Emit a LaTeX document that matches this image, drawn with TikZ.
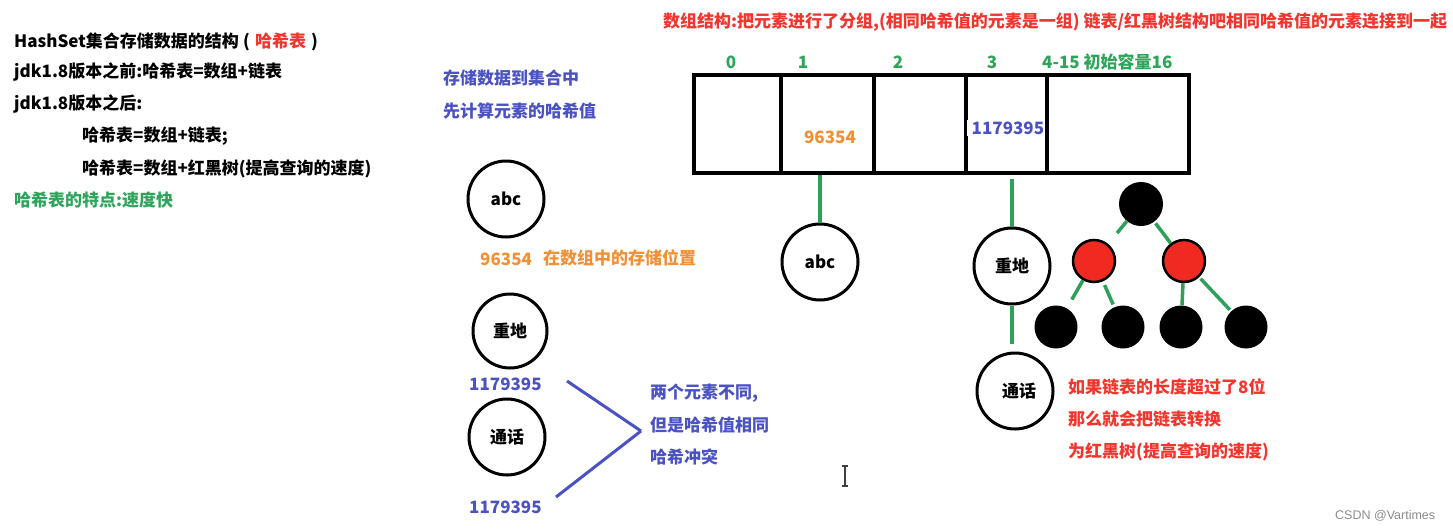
\documentclass[tikz,border=0pt]{standalone}
\usepackage{fontspec}
\setmainfont{Noto Sans CJK SC}
\newfontfamily\wmfont{Liberation Sans}
\definecolor{tred}{HTML}{F2362E}
\definecolor{torange}{HTML}{F39034}
\definecolor{tblue}{HTML}{4B52C4}
\definecolor{tgreen}{HTML}{2EA55A}
\definecolor{lgreen}{HTML}{2DA05A}
\definecolor{nred}{HTML}{F02A20}
\begin{document}
\begin{tikzpicture}[x=1pt,y=-1pt,
  font=\bfseries\fontsize{17}{20}\selectfont,
  txt/.style={anchor=west, inner sep=0pt},
  ctxt/.style={inner sep=0pt},
  circ/.style={circle, draw, line width=3pt, minimum size=76pt, inner sep=0pt},
  cell/.style={draw, line width=3.5pt, minimum height=98pt, inner sep=0pt},
  bk/.style={circle, fill=black, minimum size=44pt, inner sep=0pt},
  rd/.style={circle, fill=nred, draw=black, line width=2.5pt, minimum size=42pt, inner sep=0pt},
  gl/.style={draw=lgreen, line width=3.5pt},
  bl/.style={draw=tblue, line width=3pt}]
\path[fill=white] (0,0) rectangle (1453,531);
\useasboundingbox (0,0) rectangle (1453,531);
% left block
\node[txt] (l1) at (14,42) {HashSet集合存储数据的结构\hspace{0.25em}(\hspace{0.3em}\textcolor{tred}{哈希表}\hspace{0.3em})};
\node[txt] (l2) at (14,72) {jdk1.8版本之前:哈希表=数组+链表};
\node[txt] (l3) at (14,104) {jdk1.8版本之后:};
\node[txt] (l4) at (82,136) {哈希表=数组+链表;};
\node[txt] (l5) at (82,169) {哈希表=数组+红黑树(提高查询的速度)};
\node[txt, text=tgreen] (l6) at (14,200) {哈希表的特点:速度快};
% middle column
\node[txt, text=tblue] (m1) at (443,78) {存储数据到集合中};
\node[txt, text=tblue] (m2) at (443,111) {先计算元素的哈希值};
\node[circ] (ca) at (506,199) {abc};
\node[txt, text=torange] (h1) at (480,259) {96354};
\node[txt, text=torange] (h2) at (543,258) {在数组中的存储位置};
\node[circ, minimum size=74pt] (cz) at (510,331) {重地};
\node[txt, text=tblue] (n1) at (469,384) {1179395};
\node[circ] (ct) at (507,437) {通话};
\node[txt, text=tblue] (n2) at (469,507) {1179395};
\node[txt, text=tblue] (b1) at (650,393) {两个元素不同,};
\node[txt, text=tblue] (b2) at (650,425) {但是哈希值相同};
\node[txt, text=tblue] (b3) at (650,457) {哈希冲突};
\coordinate (p1) at (567,381);
\coordinate (p2) at (556,497);
\coordinate (pm) at (641,431);
\draw[bl] (p1) -- (pm);
\draw[bl] (p2) -- (pm);
% top text
\node[txt, text=tred] (top) at (663,22) {数组结构:把元素进行了分组,(相同哈希值的元素是一组) 链表/红黑树结构吧相同哈希值的元素连接到一起};
% array
\node[cell, minimum width=87pt] (c0) at (737.5,124) {};
\node[cell, minimum width=93pt] (c1) at (827.5,124) {};
\node[cell, minimum width=92pt] (c2) at (920,124) {};
\node[cell, minimum width=81pt] (c3) at (1006.5,124) {};
\node[cell, minimum width=142pt] (c4) at (1118,124) {};
\node[ctxt, text=tgreen] (i0) at (731,62) {0};
\node[ctxt, text=tgreen] (i1) at (803,62) {1};
\node[ctxt, text=tgreen] (i2) at (898,62) {2};
\node[ctxt, text=tgreen] (i3) at (992,62) {3};
\node[txt, text=tgreen] (i4) at (1042,62) {4-15 初始容量16};
\node[ctxt, text=torange] (v1) at (830,137) {96354};
\node[txt, fill=white, inner xsep=0pt, inner ysep=2pt, text=tblue] (v3) at (966.5,128) {\hspace{5pt}1179395};
% chains
\node[circ] (ra) at (820,262) {abc};
\node[circ] (rz) at (1012,266) {重地};
\node[circ] (rt) at (1015,391) {\hspace{8pt}\raisebox{-7pt}{通话}};
\draw[gl] (ra.north |- c1.south) -- (ra.north);
\draw[gl, shorten <=4pt] (rz.north |- c3.south) -- (rz.north);
\draw[gl, shorten >=8pt] (rz.south) -- (rz.south |- rt.north);
% tree
\node[bk] (t0) at (1141,204) {};
\node[rd] (t1) at (1094,261) {};
\node[rd] (t2) at (1184,261) {};
\node[bk, minimum size=43pt] (t3) at (1056,327) {};
\node[bk, minimum size=43pt] (t4) at (1123,327) {};
\node[bk, minimum size=43pt] (t5) at (1181,327) {};
\node[bk, minimum size=43pt] (t6) at (1246,327) {};
\draw[gl, shorten >=14pt] (t0) -- (t1);
\draw[gl, shorten <=2pt] (t0) -- (t2);
\draw[gl, shorten >=10pt] (t1) -- (t3);
\draw[gl, shorten <=4pt, shorten >=3pt] (t1) -- (t4);
\draw[gl] (t2) -- (t5);
\draw[gl, shorten <=2pt, shorten >=2pt] (t2) -- (t6);
\node[txt, text=tred] (r1) at (1068,387) {如果链表的长度超过了8位};
\node[txt, text=tred] (r2) at (1068,419) {那么就会把链表转换};
\node[txt, text=tred] (r3) at (1068,452) {为红黑树(提高查询的速度)};
% cursor
\draw[line width=1.2pt, black!75] (845,466) -- (845,486) (842,466) -- (848,466) (842,486) -- (848,486);
% watermark
\node[txt, text=black!45, font=\wmfont\fontsize{12.5}{14}\selectfont] (wm) at (1335,516) {CSDN @Vartimes};
\end{tikzpicture}
\end{document}
